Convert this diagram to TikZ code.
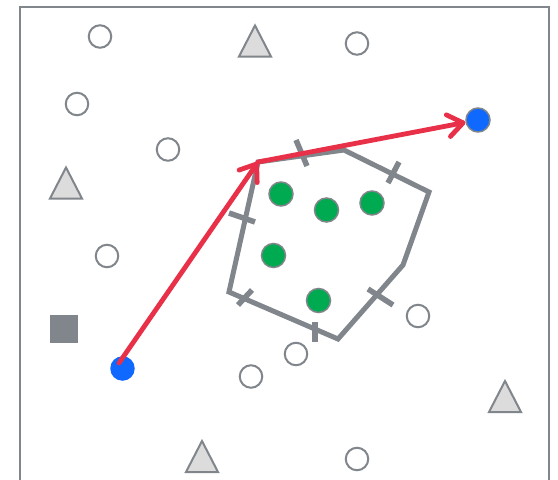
\documentclass[tikz,border=0pt]{standalone}
\usetikzlibrary{arrows.meta}
\definecolor{gframe}{HTML}{80868B}
\definecolor{trifill}{HTML}{DCDCDC}
\definecolor{gdot}{RGB}{0,170,80}
\definecolor{bdot}{RGB}{15,105,255}
\definecolor{rarrow}{RGB}{232,48,72}
\tikzset{
  frameline/.style={draw=gframe,line width=2.5pt},
  opencirc/.style={circle,draw=gframe,fill=white,line width=2pt,minimum size=22.5pt,inner sep=0pt},
  greendot/.style={circle,draw=gframe,fill=gdot,line width=1.5pt,minimum size=24pt,inner sep=0pt},
  bluedot/.style={circle,fill=bdot,minimum size=24.5pt,inner sep=0pt},
  bluedotb/.style={circle,fill=bdot,draw=gframe,line width=1.5pt,minimum size=24pt,inner sep=0pt},
  sqbox/.style={rectangle,fill=gframe,minimum size=28.5pt,inner sep=0pt},
  polyline/.style={draw=gframe,line width=5pt,line join=miter},
  tickline/.style={draw=gframe,line width=5.5pt},
  redarrow/.style={draw=rarrow,line width=4.8pt,line cap=round,line join=round,-{Straight Barb[length=15pt,width=22pt,line cap=round,line join=round]}},
  tri/.pic={\path[draw=gframe,fill=trifill,line width=2pt,line join=miter] (-16,15.5)--(0,-15.5)--(16,15.5)--cycle;}
}
\begin{document}
\begin{tikzpicture}[x=1pt,y=-1pt]
\useasboundingbox (0,0) rectangle (558,480);
\fill[white] (0,0) rectangle (558,480);
% frame
\draw[frameline] (20,480) -- (20,7) -- (549,7) -- (549,480);
% open circles
\node[opencirc] (c1) at (100,36.5) {};
\node[opencirc] (c2) at (357,43.5) {};
\node[opencirc] (c3) at (77,104) {};
\node[opencirc] (c4) at (168,149.5) {};
\node[opencirc] (c5) at (107,256) {};
\node[opencirc] (c6) at (418,316) {};
\node[opencirc] (c7) at (296,354) {};
\node[opencirc] (c8) at (251,376.5) {};
\node[opencirc] (c9) at (357,459) {};
% triangles
\pic (t1) at (255,41) {tri};
\pic (t2) at (66,183) {tri};
\pic (t3) at (505,396.5) {tri};
\pic (t4) at (202,456.5) {tri};
% square
\node[sqbox] (sq) at (64,329) {};
% polygon
\coordinate (p1) at (258,162);
\coordinate (p2) at (344,150);
\coordinate (p3) at (429,192);
\coordinate (p4) at (403,265);
\coordinate (p5) at (338,339);
\coordinate (p6) at (229,292);
\draw[polyline] (p1) -- (p2) -- (p3) -- (p4) -- (p5) -- (p6) -- cycle;
% ticks
\draw[tickline] (296,140) -- (307,166);
\draw[tickline] (399,162) -- (388,183);
\draw[tickline] (368,289) -- (393,305);
\draw[tickline] (315,322) -- (315,342);
\draw[tickline] (238,305) -- (252,290);
\draw[tickline] (229,213) -- (255,222);
% green dots
\node[greendot] (g1) at (281,194) {};
\node[greendot] (g2) at (326.5,210) {};
\node[greendot] (g3) at (372,203) {};
\node[greendot] (g4) at (273.5,255.5) {};
\node[greendot] (g5) at (318.5,300.5) {};
% blue dots
\node[bluedot] (b1) at (122.5,368.5) {};
\node[bluedotb] (b2) at (478,120) {};
% arrows
\draw[redarrow] (119,363) -- (p1);
\draw[redarrow] (p1) -- (b2);
\end{tikzpicture}
\end{document}
